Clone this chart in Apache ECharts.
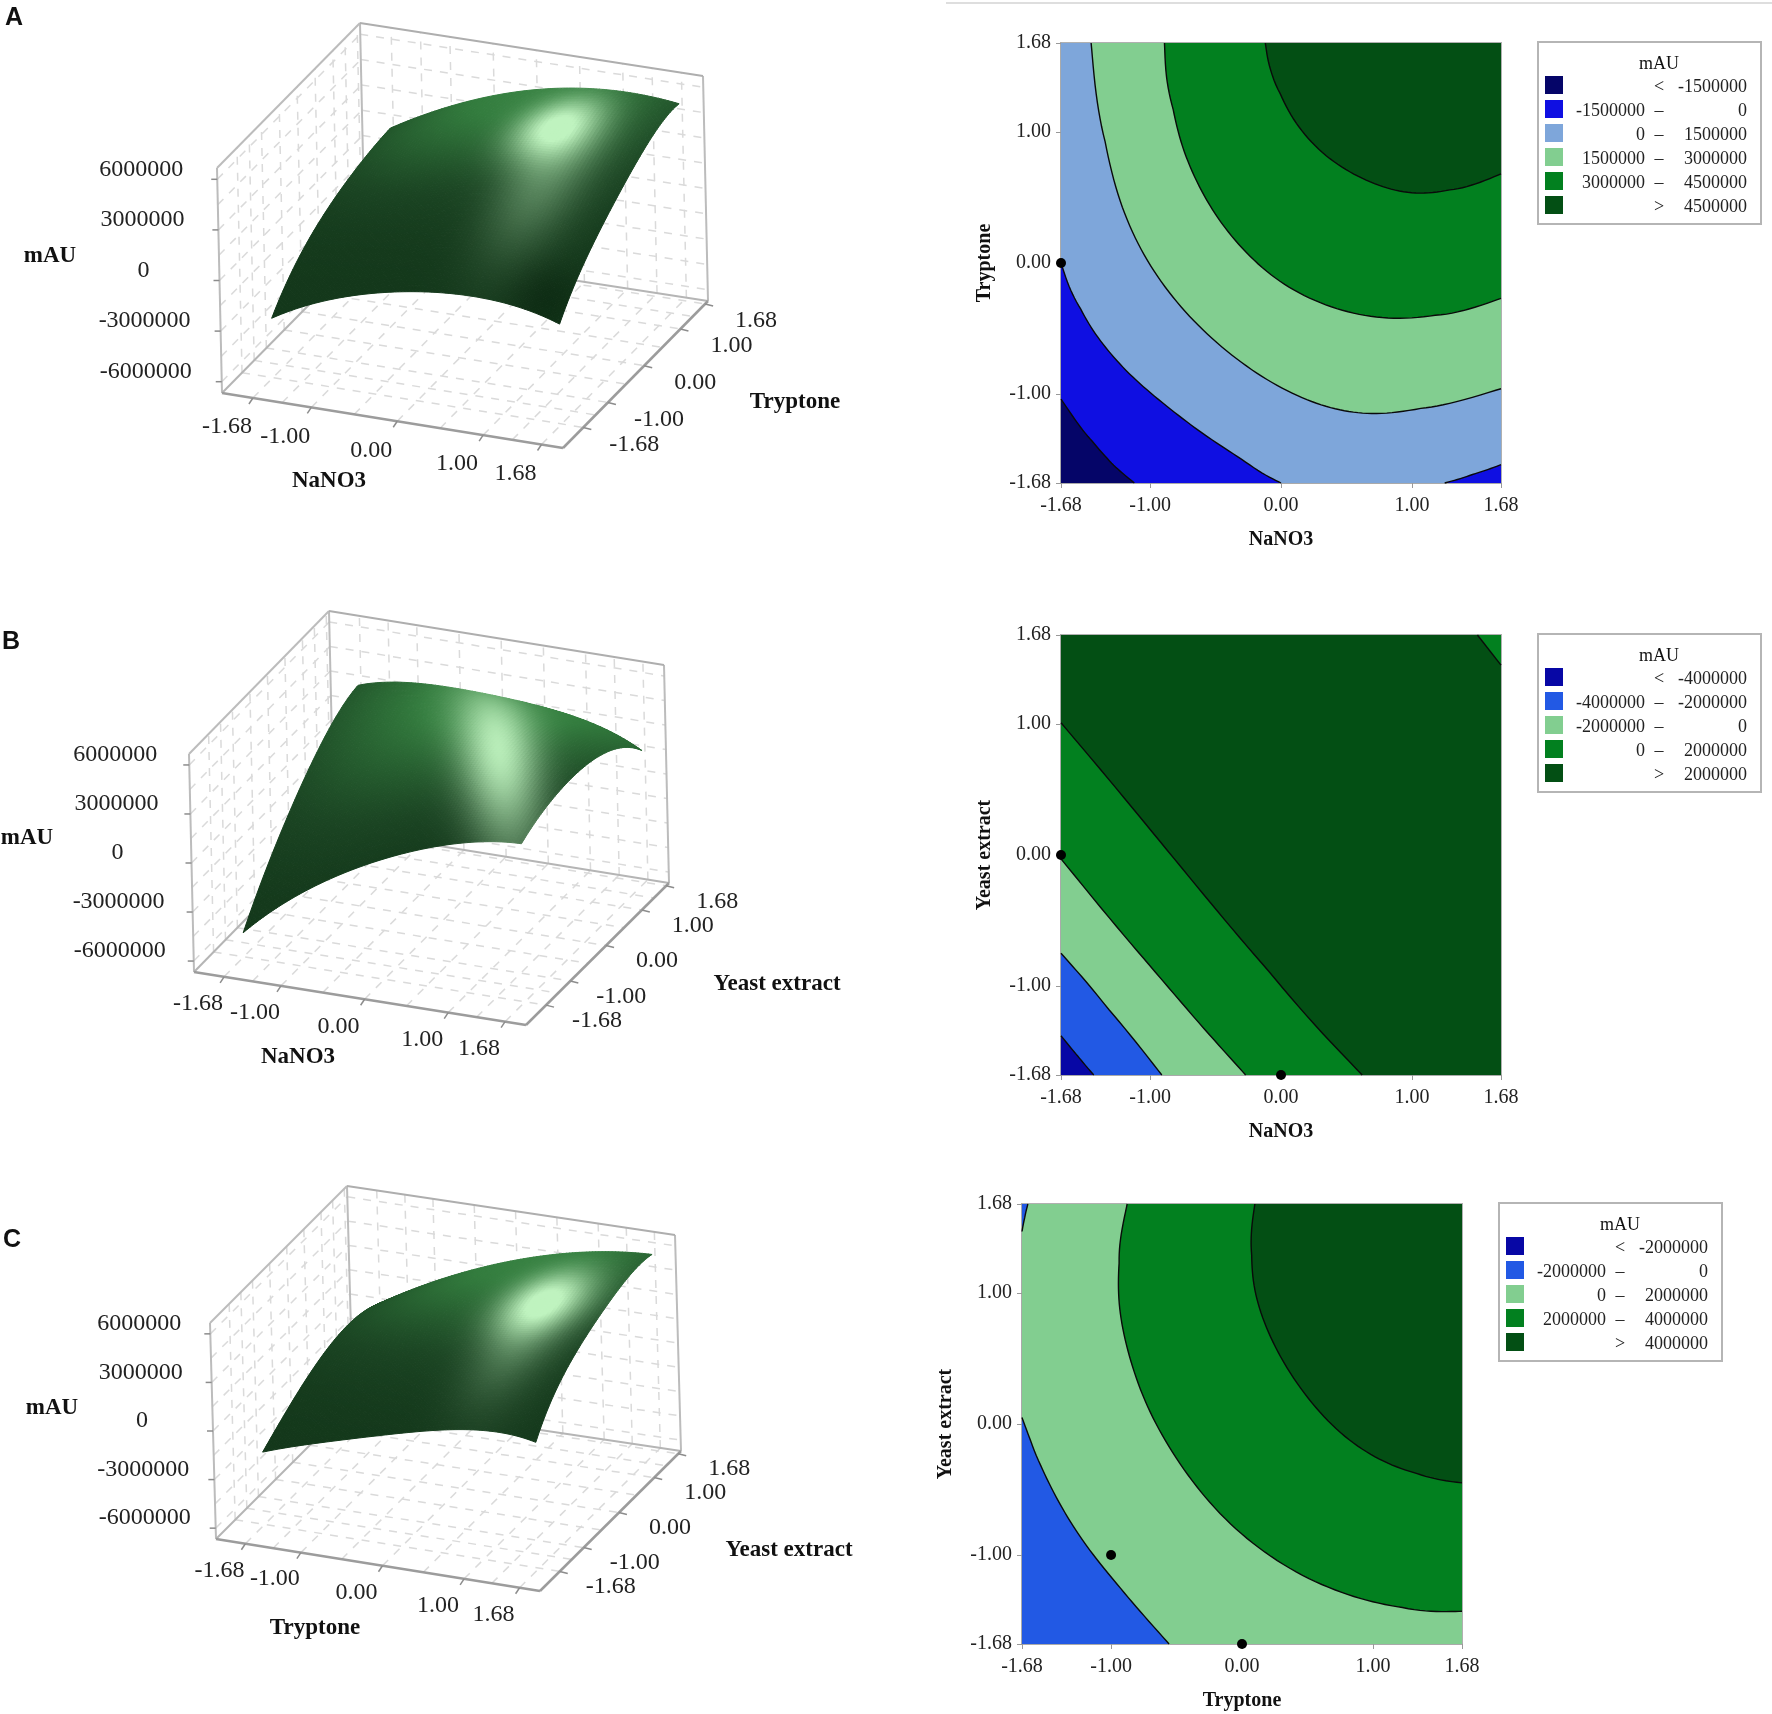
<!DOCTYPE html>
<html>
<head>
<meta charset="utf-8">
<title>Response surface and contour plots</title>
<style>
html, body { margin: 0; background: #fff; }
#main { width: 1772px; height: 1714px; }
</style>
<script src="https://cdn.jsdelivr.net/npm/echarts@6/dist/echarts.min.js"></script>
</head>
<body>
<div id="main"></div>
<script>
// ticks shared by all panels
var tickValues = [-1.68, -1, 0, 1, 1.68];
var zTicks = [-6000000, -3000000, 0, 3000000, 6000000];
// dashed wall lines: the ticks and the halves between them
var gridValues = [-1.68, -1.34, -1, -0.5, 0, 0.5, 1, 1.34, 1.68];
var zGridValues = [-6000000, -4500000, -3000000, -1500000, 0, 1500000, 3000000, 4500000, 6000000];

// surface heights (mAU), rows are y = tickValues, columns are x = tickValues
var surfaceA = [
    [-3150000, -1500000, -200000, 0, -750000],
    [-1420000, 50000, 1500000, 1850000, 1300000],
    [0, 1550000, 3300000, 3720000, 3300000],
    [700000, 2500000, 4200000, 5000000, 4750000],
    [900000, 2700000, 4500000, 5200000, 5000000]
];
var surfaceB = [
    [-5200000, -2300000, 650000, 2500000, 3000000],
    [-2800000, -400000, 2000000, 3600000, 3700000],
    [0, 1600000, 3600000, 4400000, 3900000],
    [2000000, 3000000, 4000000, 3900000, 3000000],
    [2600000, 3300000, 3300000, 2700000, 1400000]
];
var surfaceC = [
    [-2200000, -1100000, 300000, 1300000, 1100000],
    [-1200000, 300000, 1700000, 3000000, 3200000],
    [-50000, 1600000, 3200000, 4300000, 4700000],
    [300000, 1950000, 3850000, 5100000, 5500000],
    [-200000, 1700000, 3800000, 5100000, 5450000]
];

// contour lines, [x, y] in coded units
var curveA1 = [[-1.68, -1.04], [-1.45, -1.37], [-1.31, -1.52], [-1.12, -1.68]];
var curveA2 = [[-1.68, 0], [-1.57, -0.31], [-1.41, -0.58], [-1.2, -0.81], [-0.92, -1.08], [-0.59, -1.3], [-0.26, -1.54], [0, -1.68]];
var curveA2b = [[1.25, -1.68], [1.46, -1.62], [1.68, -1.54]];
var curveA3 = [[-1.45, 1.68], [-1.38, 1], [-1.25, 0.45], [-1.04, 0], [-0.75, -0.38], [-0.39, -0.72], [0.02, -0.99], [0.39, -1.13], [0.72, -1.17], [1.09, -1.13], [1.68, -0.96]];
var curveA4 = [[-0.89, 1.68], [-0.86, 1.23], [-0.75, 0.84], [-0.59, 0.48], [-0.34, 0.12], [-0.02, -0.16], [0.35, -0.36], [0.84, -0.46], [1.25, -0.41], [1.68, -0.27]];
var curveA5 = [[-0.12, 1.68], [-0.06, 1.37], [0.11, 1], [0.39, 0.76], [0.72, 0.58], [1.03, 0.5], [1.34, 0.55], [1.68, 0.68]];

var curveB1 = [[-1.68, -1.38], [-1.55, -1.54], [-1.43, -1.68]];
var curveB2 = [[-1.68, -0.75], [-1.33, -1.15], [-0.91, -1.68]];
var curveB3 = [[-1.68, -0.03], [-1.04, -0.81], [-0.63, -1.28], [-0.27, -1.68]];
var curveB4 = [[-1.68, 1.01], [-1.04, 0.25], [-0.55, -0.35], [-0.02, -1], [0.62, -1.68]];
var curveB5 = [[1.68, 1.45], [1.5, 1.68]];

var curveC1 = [[-1.635, 1.68], [-1.66, 1.58], [-1.68, 1.47]];
var curveC2 = [[-1.68, 0.05], [-1.58, -0.22], [-1.42, -0.61], [-1.17, -0.97], [-0.885, -1.31], [-0.557, -1.68]];
var curveC3 = [[-0.877, 1.68], [-0.955, 1.27], [-0.955, 0.95], [-0.885, 0.51], [-0.72, 0.1], [-0.475, -0.35], [-0.107, -0.79], [0.34, -1.13], [0.877, -1.36], [1.33, -1.43], [1.68, -1.43]];
var curveC4 = [[0.098, 1.68], [0.057, 1.34], [0.078, 1.03], [0.18, 0.69], [0.43, 0.25], [0.754, -0.11], [1.08, -0.31], [1.41, -0.41], [1.68, -0.45]];

// design points
var dotsA = [[-1.68, 0]];
var dotsB = [[-1.68, 0], [0, -1.68]];
var dotsC = [[-1, -1], [0, -1.68]];

// legend rows: low, sign, high
var rowsA = [['', '<', '-1500000'], ['-1500000', '–', '0'], ['0', '–', '1500000'], ['1500000', '–', '3000000'], ['3000000', '–', '4500000'], ['', '>', '4500000']];
var rowsB = [['', '<', '-4000000'], ['-4000000', '–', '-2000000'], ['-2000000', '–', '0'], ['0', '–', '2000000'], ['', '>', '2000000']];
var rowsC = [['', '<', '-2000000'], ['-2000000', '–', '0'], ['0', '–', '2000000'], ['2000000', '–', '4000000'], ['', '>', '4000000']];

var colorsA = ['#050568', '#0f0fe2', '#7ea6da', '#82ce90', '#02801f', '#034f14'];
var colorsB = ['#0707a5', '#2259e4', '#82ce90', '#02801f', '#034f14'];
var colorsC = ['#0707a5', '#2259e4', '#82ce90', '#02801f', '#034f14'];

var BR = [[1.68, -1.68]], TR = [[1.68, 1.68]], TL = [[-1.68, 1.68]], BL = [[-1.68, -1.68]];
var wholeRect = [BL, BR, TR, TL];

// each band is painted over the previous one
var ringsA = [wholeRect, [curveA1, BR, TR, TL], [curveA2, curveA2b, TR, TL], [curveA3, TR], [curveA4, TR], [curveA5, TR]];
var ringsB = [wholeRect, [curveB1, BR, TR, TL], [curveB2, BR, TR, TL], [curveB3, BR, TR, TL], [curveB4, BR, curveB5, TL]];
var ringsC = [[], wholeRect, [curveC2, BR, TR, curveC1], [curveC3, TR], [curveC4, TR]];

var serif = 'Liberation Serif';
var xSpan = [-2.04, 1.93], ySpan = [-2.24, 1.76], zSpan = [-6670000, 6670000];

var option = {
    backgroundColor: '#fff',
    animation: false,
    grid: [],
    xAxis: [],
    yAxis: [],
    legend: [],
    title: [],
    series: [],
    graphic: [{
        type: 'line',
        shape: { x1: 946, y1: 3, x2: 1772, y2: 3 },
        style: { stroke: '#dedede', lineWidth: 2 }
    }]
};

function addTitle(text, x, y, size, family, weight) {
    option.title.push({
        text: text, left: x, top: y, padding: 0,
        textAlign: 'center', textVerticalAlign: 'middle',
        textStyle: { color: '#111', fontFamily: family, fontSize: size, fontWeight: weight }
    });
}

// catmull-rom through a read contour plus a moving average, only for drawing
function smoothCurve(pts) {
    if (pts.length < 3) return pts;
    var out = [];
    for (var i = 0; i < pts.length - 1; i++) {
        var p0 = pts[Math.max(i - 1, 0)], p1 = pts[i], p2 = pts[i + 1], p3 = pts[Math.min(i + 2, pts.length - 1)];
        for (var s = 0; s < 10; s++) {
            var t = s / 10, t2 = t * t, t3 = t2 * t;
            out.push([0, 1].map(function (k) {
                return 0.5 * (2 * p1[k] + (p2[k] - p0[k]) * t + (2 * p0[k] - 5 * p1[k] + 4 * p2[k] - p3[k]) * t2 + (3 * p1[k] - p0[k] - 3 * p2[k] + p3[k]) * t3);
            }));
        }
    }
    out.push(pts[pts.length - 1]);
    return out.map(function (p, n) {
        var w = Math.min(12, n, out.length - 1 - n), sx = 0, sy = 0;
        for (var m = n - w; m <= n + w; m++) { sx += out[m][0]; sy += out[m][1]; }
        return [sx / (2 * w + 1), sy / (2 * w + 1)];
    });
}

function bandRenderer(ring) {
    return function (params, api) {
        var children = [], outline = [];
        ring.forEach(function (seg) {
            var pts = smoothCurve(seg).map(function (p) { return api.coord(p); });
            outline = outline.concat(pts);
            if (seg.length > 1 && ring !== wholeRect) {
                children.push({ type: 'polyline', z2: 2, shape: { points: pts }, style: { fill: null, stroke: '#0a0a0a', lineWidth: 1.4 } });
            }
        });
        if (outline.length) {
            children.unshift({ type: 'polygon', shape: { points: outline }, style: { fill: api.visual('color') } });
        }
        return { type: 'group', children: children };
    };
}

// width of a legend number in Liberation Serif 18px
function numberWidth(text) {
    return text.replace('-', '').length * 9 + (text.charAt(0) === '-' ? 6 : 0);
}

function addContour(key, box, xName, yName, rows, colors, rings, dots, legendBox) {
    var idx = option.grid.length;
    option.grid.push({ left: box[0], top: box[1], width: 440, height: 440, show: true, borderColor: '#b0b0b0', borderWidth: 2, backgroundColor: 'transparent' });
    function axis(name, gap, labelMargin, labelPadding) {
        return {
            type: 'value', gridIndex: idx, min: -1.68, max: 1.68,
            name: name, nameLocation: 'middle', nameGap: gap,
            nameTextStyle: { color: '#111', fontFamily: serif, fontSize: 20, fontWeight: 'bold' },
            axisLine: { onZero: false, lineStyle: { color: '#aaa', width: 2 } },
            axisTick: { show: true, length: 5, customValues: tickValues, lineStyle: { color: '#999' } },
            axisLabel: {
                show: true, margin: labelMargin, padding: labelPadding, color: '#222', fontFamily: serif, fontSize: 20,
                customValues: tickValues, hideOverlap: false,
                formatter: function (v) { return Number(v).toFixed(2); }
            },
            splitLine: { show: false }
        };
    }
    option.xAxis.push(axis(xName, 47, 13, 0));
    option.yAxis.push(axis(yName, 66, 10, [3, 0, 0, 0]));
    var names = rows.map(function (r) { return key + '|' + r[0] + '|' + r[1] + '|' + r[2]; });
    names.forEach(function (name, i) {
        option.series.push({
            type: 'custom', name: name, coordinateSystem: 'cartesian2d',
            xAxisIndex: idx, yAxisIndex: idx, silent: true, z: 2,
            itemStyle: { color: colors[i] },
            data: [[0, 0]],
            renderItem: bandRenderer(rings[i])
        });
    });
    option.series.push({
        type: 'scatter', xAxisIndex: idx, yAxisIndex: idx, data: dots, symbolSize: 10, clip: false, silent: true, z: 5,
        itemStyle: { color: '#000', opacity: 1 }
    });
    function token(extra) {
        return Object.assign({ color: '#222', fontFamily: serif, fontSize: 18, lineHeight: 14, padding: [4, 0, 0, 0], align: 'left' }, extra);
    }
    var rich = { a: token({}), d: token({ width: 28, align: 'center' }), b: token({ width: 74, align: 'right' }) };
    rows.forEach(function (r) {
        var w = 77 - numberWidth(r[0]);
        rich['s' + w] = token({ width: w });
    });
    option.legend.push({
        left: legendBox[0], top: legendBox[1], orient: 'vertical', selectedMode: false,
        padding: [32, 14, 8, 7], itemWidth: 18, itemHeight: 18, itemGap: 2,
        backgroundColor: '#fff', borderColor: '#b5b5b5', borderWidth: 2,
        icon: 'rect', data: names,
        textStyle: { padding: 0, rich: rich },
        formatter: function (name) {
            var p = name.split('|');
            var low = p[1] ? '{a|' + p[1] + '}' : '';
            return '{s' + (77 - numberWidth(p[1])) + '|\u00a0}' + low + '{d|' + p[2] + '}{b|' + p[3] + '}';
        }
    });
    addTitle('mAU', legendBox[0] + 121, legendBox[1] + 22, 18, serif, 'normal');
}

// polynomial through the five read heights, smooths the mesh for drawing
function throughNodes(vals, t) {
    var sum = 0;
    tickValues.forEach(function (xi, i) {
        var w = vals[i];
        tickValues.forEach(function (xj, j) {
            if (j !== i) w *= (t - xj) / (xi - xj);
        });
        sum += w;
    });
    return sum;
}
function surfaceZ(grid, x, y) {
    return throughNodes(grid.map(function (row) { return throughNodes(row, x); }), y);
}

function project(view, x, y, z) {
    var u = (x - xSpan[0]) / (xSpan[1] - xSpan[0]);
    var v = (y - ySpan[0]) / (ySpan[1] - ySpan[0]);
    var w = (z - zSpan[0]) / (zSpan[1] - zSpan[0]);
    return [0, 1].map(function (k) {
        var front = view.fl[k] + (view.fr[k] - view.fl[k]) * u;
        var back = view.bl[k] + (view.br[k] - view.bl[k]) * u;
        return front + (back - front) * v + view.up[k] * w;
    });
}

function gaussians(list, x, y) {
    var sum = 0;
    list.forEach(function (g) {
        var dx = x - g.x, dy = y - g.y, c = Math.cos(g.rot || 0), s = Math.sin(g.rot || 0);
        var a = (dx * c + dy * s) / g.sa, b = (-dx * s + dy * c) / g.sb;
        sum += g.amp * Math.exp(-0.5 * (a * a + b * b));
    });
    return sum;
}

var ramp = [[0, [12, 42, 18]], [0.25, [27, 69, 35]], [0.6, [51, 124, 62]], [1, [76, 154, 85]]];
var glossColor = [191, 243, 191];
function shadeColor(view, x, y) {
    var t = Math.max(0, Math.min(1, view.floor + gaussians(view.glow, x, y)));
    var s = Math.min(1, gaussians(view.gloss, x, y));
    var i = 0;
    while (i < ramp.length - 2 && t > ramp[i + 1][0]) i++;
    var f = (t - ramp[i][0]) / (ramp[i + 1][0] - ramp[i][0]);
    var rgb = [0, 1, 2].map(function (k) {
        var c = ramp[i][1][k] + (ramp[i + 1][1][k] - ramp[i][1][k]) * f;
        return Math.round(c + (glossColor[k] - c) * s);
    });
    return 'rgb(' + rgb.join(',') + ')';
}

// hidden grid with picture units, the 3D views are projected into it
var viewGrid = 3;

function renderBox(view) {
    return function (params, api) {
        var kids = [];
        function P(x, y, z) { return project(view, x, y, z); }
        function seg(a, b, color, width, dash) {
            kids.push({ type: 'line', shape: { x1: api.coord(a)[0], y1: api.coord(a)[1], x2: api.coord(b)[0], y2: api.coord(b)[1] }, style: { stroke: color, lineWidth: width, lineDash: dash || null } });
        }
        function label(text, at, dx, dy) {
            var c = api.coord([at[0] + dx, at[1] + dy]);
            kids.push({ type: 'text', x: c[0], y: c[1], style: { text: text, fill: '#222', fontFamily: serif, fontSize: 24, align: 'center', verticalAlign: 'middle' } });
        }
        var x0 = xSpan[0], x1 = xSpan[1], y0 = ySpan[0], y1 = ySpan[1], z0 = zSpan[0], z1 = zSpan[1];
        var dash = [8, 8], gridC = '#dadada';
        gridValues.forEach(function (t) {
            seg(P(t, y0, z0), P(t, y1, z0), gridC, 1.5, dash);
            seg(P(x0, t, z0), P(x1, t, z0), gridC, 1.5, dash);
            seg(P(t, y1, z0), P(t, y1, z1), gridC, 1.5, dash);
            seg(P(x0, t, z0), P(x0, t, z1), gridC, 1.5, dash);
        });
        zGridValues.forEach(function (t) {
            seg(P(x0, y0, t), P(x0, y1, t), gridC, 1.5, dash);
            seg(P(x0, y1, t), P(x1, y1, t), gridC, 1.5, dash);
        });
        var edge = '#bcbcbc';
        seg(P(x0, y0, z0), P(x0, y0, z1), edge, 2);
        seg(P(x0, y1, z0), P(x0, y1, z1), edge, 2);
        seg(P(x1, y1, z0), P(x1, y1, z1), edge, 2);
        seg(P(x0, y0, z1), P(x0, y1, z1), edge, 2);
        seg(P(x0, y1, z1), P(x1, y1, z1), '#aeaeae', 2);
        seg(P(x0, y1, z0), P(x1, y1, z0), '#b5b5b5', 2);
        seg(P(x0, y0, z0), P(x0, y1, z0), '#b5b5b5', 2);
        seg(P(x0, y0, z0), P(x1, y0, z0), '#9c9c9c', 2.5);
        seg(P(x1, y0, z0), P(x1, y1, z0), '#9c9c9c', 2.5);
        tickValues.forEach(function (t) {
            var a = P(t, y0, z0);
            seg(a, [a[0] - 4, a[1] + 6], '#8c8c8c', 1.5);
            label(t.toFixed(2), a, -26, view.xLabelDy);
            var b = P(x1, t, z0);
            seg(b, [b[0] + 8, b[1] + 2], '#8c8c8c', 1.5);
            label(t.toFixed(2), b, 51, view.yLabelDy);
        });
        zTicks.forEach(function (t) {
            var a = P(x0, y0, t);
            seg(a, [a[0] - 6, a[1]], '#8c8c8c', 1.5);
            label(String(t), a, view.zLabelDx, -10);
        });
        return { type: 'group', children: kids };
    };
}

function renderSurface(view, grid) {
    return function (params, api) {
        var N = 84, kids = [];
        function node(i, j) {
            var x = -1.68 + 3.36 * i / N, y = -1.68 + 3.36 * j / N;
            return api.coord(project(view, x, y, surfaceZ(grid, x, y)));
        }
        for (var j = N - 1; j >= 0; j--) {
            for (var i = 0; i < N; i++) {
                var fill = shadeColor(view, -1.68 + 3.36 * (i + 0.5) / N, -1.68 + 3.36 * (j + 0.5) / N);
                kids.push({
                    type: 'polygon',
                    shape: { points: [node(i, j), node(i + 1, j), node(i + 1, j + 1), node(i, j + 1)] },
                    style: { fill: fill, stroke: fill, lineWidth: 1 }
                });
            }
        }
        return { type: 'group', children: kids };
    };
}

function add3d(view, grid) {
    option.series.push({
        type: 'custom', coordinateSystem: 'cartesian2d', xAxisIndex: viewGrid, yAxisIndex: viewGrid, silent: true, z: 1,
        data: [[0, 0]], renderItem: renderBox(view)
    });
    option.series.push({
        type: 'custom', coordinateSystem: 'cartesian2d', xAxisIndex: viewGrid, yAxisIndex: viewGrid, silent: true, z: 2,
        data: [[0, 0]], renderItem: renderSurface(view, grid)
    });
}

addContour('A', [1061, 43], 'NaNO3', 'Tryptone', rowsA, colorsA, ringsA, dotsA, [1538, 42]);
addContour('B', [1061, 635], 'NaNO3', 'Yeast extract', rowsB, colorsB, ringsB, dotsB, [1538, 634]);
addContour('C', [1022, 1204], 'Tryptone', 'Yeast extract', rowsC, colorsC, ringsC, dotsC, [1499, 1203]);

option.grid.push({ left: 0, top: 0, width: 1772, height: 1714, show: false });
option.xAxis.push({ type: 'value', gridIndex: viewGrid, min: 0, max: 1772, show: false });
option.yAxis.push({ type: 'value', gridIndex: viewGrid, min: 0, max: 1714, inverse: true, show: false });

add3d({
    fl: [222, 393], fr: [563, 448], br: [708, 301], bl: [365, 248], up: [-5, -225],
    xLabelDy: 29, yLabelDy: 17, zLabelDx: -76,
    floor: 0.12,
    glow: [{ x: 0, y: 1.7, sa: 1.3, sb: 1.2, amp: 0.55 }, { x: 1.4, y: -1.5, sa: 0.3, sb: 0.3, amp: -0.12 }],
    gloss: [{ x: 0.62, y: 0.82, sa: 0.33, sb: 0.42, amp: 1 }, { x: 0.85, y: -0.1, sa: 0.33, sb: 0.75, amp: 0.35 }]
}, surfaceA);
add3d({
    fl: [194, 972], fr: [526, 1025], br: [669, 883], bl: [334, 829], up: [-5, -218],
    xLabelDy: 27, yLabelDy: 15.5, zLabelDx: -74,
    floor: 0.1,
    glow: [{ x: 0.2, y: 1.4, sa: 1.5, sb: 1.5, amp: 0.6 }],
    gloss: [{ x: 0.7, y: 0, sa: 1.4, sb: 0.3, rot: -1.09, amp: 0.95 }]
}, surfaceB);
add3d({
    fl: [216, 1539], fr: [540, 1591], br: [681, 1451], bl: [353, 1402], up: [-6, -216],
    xLabelDy: 26.5, yLabelDy: 15, zLabelDx: -71,
    floor: 0.12,
    glow: [{ x: 0.3, y: 1.7, sa: 1.4, sb: 1.3, amp: 0.55 }],
    gloss: [{ x: 0.9, y: 0.45, sa: 0.36, sb: 0.46, amp: 1 }, { x: 0.95, y: -0.4, sa: 0.35, sb: 0.7, amp: 0.3 }]
}, surfaceC);

addTitle('A', 14, 18, 25, 'Liberation Sans', 'bold');
addTitle('B', 11, 642, 25, 'Liberation Sans', 'bold');
addTitle('C', 12, 1240, 25, 'Liberation Sans', 'bold');
addTitle('NaNO3', 329, 481, 23, serif, 'bold');
addTitle('Tryptone', 795, 402, 23, serif, 'bold');
addTitle('mAU', 50, 256, 23, serif, 'bold');
addTitle('NaNO3', 298, 1057, 23, serif, 'bold');
addTitle('Yeast extract', 777, 984, 23, serif, 'bold');
addTitle('mAU', 27, 838, 23, serif, 'bold');
addTitle('Tryptone', 315, 1628, 23, serif, 'bold');
addTitle('Yeast extract', 789, 1550, 23, serif, 'bold');
addTitle('mAU', 52, 1408, 23, serif, 'bold');

var chart = echarts.init(document.getElementById('main'));
chart.setOption(option);
</script>
</body>
</html>
